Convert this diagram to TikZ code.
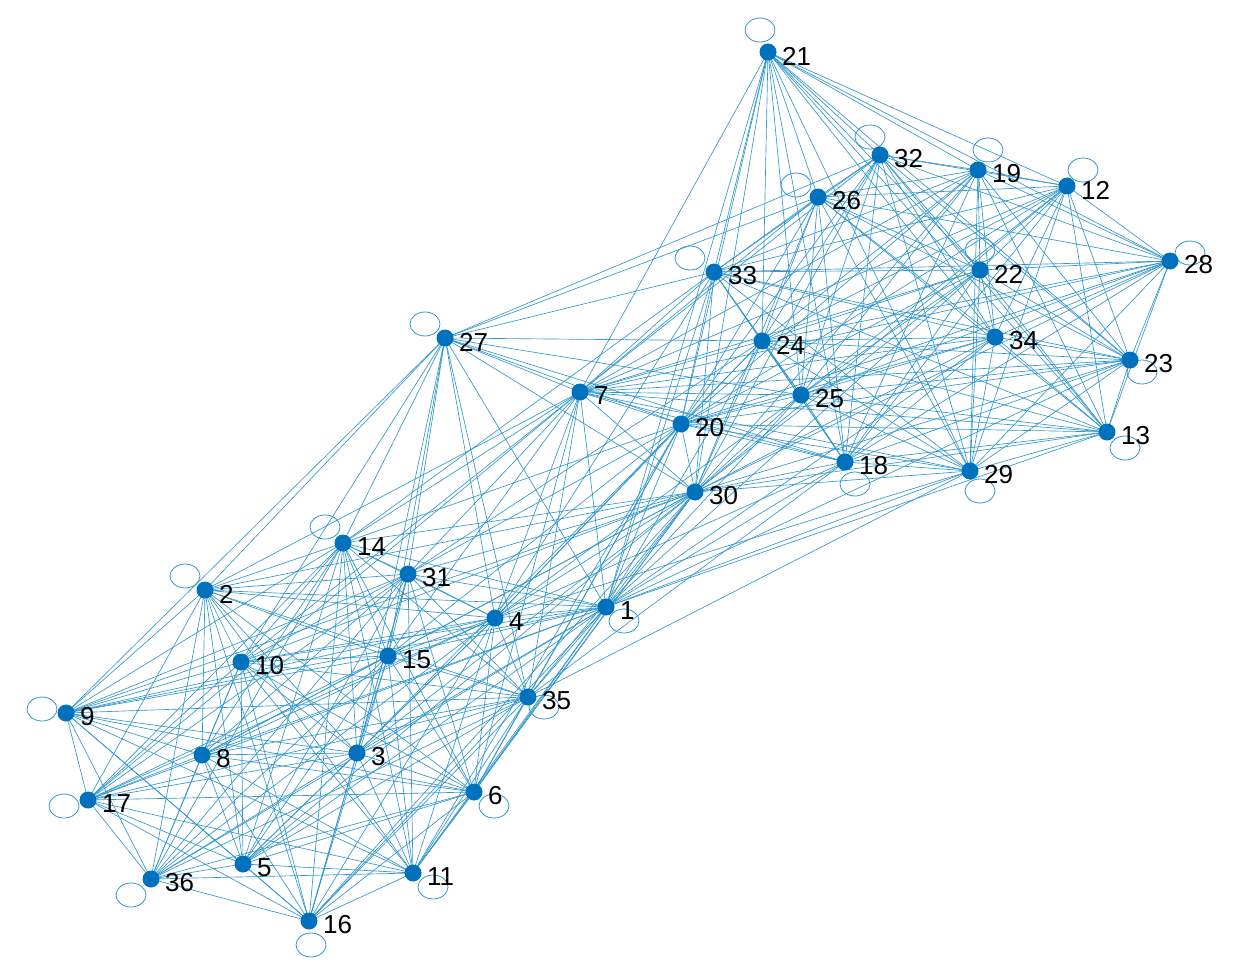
\documentclass[tikz,border=0pt]{standalone}
\usepackage{fontspec}
\setmainfont{Liberation Sans}
\usetikzlibrary{calc}
\definecolor{edge}{RGB}{50,150,205}
\definecolor{dot}{RGB}{0,114,189}
\begin{document}
\begin{tikzpicture}[x=1pt,y=-1pt,
  vtx/.style={circle,fill=dot,inner sep=0pt,minimum size=17pt},
  lbl/.style={anchor=west,font=\fontsize{26}{28}\selectfont,inner sep=0pt},
  ed/.style={draw=edge,line width=0.65pt},
  lp/.style={draw=edge,line width=0.8pt}]
\useasboundingbox (0,0) rectangle (1254,979);
\foreach \n/\x/\y in {21/768/52,32/880/155,19/978/170,12/1067/186,26/818/197,28/1170/261,22/980/270,33/714/272,34/995/337,24/762/341,23/1130/360,27/445/338,7/580/392,25/801/395,20/681/424,13/1107/432,18/845/462,29/970/471,30/695/492,14/343/543,31/408/574,2/205/590,1/606/607,4/495/618,10/241/662,15/388/656,9/66/713,35/528/697,8/202/755,3/357/753,6/474/792,17/88/800,5/243/864,11/413/873,36/151/879,16/309/921}
  {\coordinate (\n) at (\x,\y);}
% self loops
\foreach \n/\dx/\dy in {21/-8/-22,32/-10/-18,19/10/-20,12/16/-16,26/-22/-12,28/20/-8,33/-24/-14,27/-20/-14,13/18/16,18/10/22,23/12/12,14/-18/-16,2/-20/-14,1/18/14,9/-24/-4,17/-24/6,36/-20/16,16/2/24,11/20/14,6/20/14,35/16/10,29/10/20,22/0/-20}
  {\draw[lp] ($(\n)+(\dx,\dy)$) ellipse (15 and 12);}
% cluster A
\foreach \a [count=\i] in {2,9,17,36,5,16,11,6,35,3,8,10,15,4,31,14,1}
  \foreach \b [count=\j] in {2,9,17,36,5,16,11,6,35,3,8,10,15,4,31,14,1}
    {\ifnum\j>\i \draw[ed] (\a)--(\b);\fi}
% cluster B
\foreach \a [count=\i] in {21,32,19,12,26,28,22,33,34,24,23,25,20,13,18,29,30,7}
  \foreach \b [count=\j] in {21,32,19,12,26,28,22,33,34,24,23,25,20,13,18,29,30,7}
    {\ifnum\j>\i \draw[ed] (\a)--(\b);\fi}
% bridges
\foreach \a/\b in {27/2,27/14,27/31,27/4,27/15,27/10,27/1,27/7,27/20,27/33,27/26,27/24,27/25,27/30,27/3,27/35,27/9,27/18,27/32,
  1/30,1/20,1/7,1/25,1/18,1/29,1/24,1/33,1/21,1/23,1/13,1/34,1/22,
  4/30,4/20,4/7,4/25,4/18,4/24,4/33,4/29,35/30,35/20,35/7,35/29,35/18,
  14/7,14/20,14/30,14/33,31/7,31/20,31/30,31/24,15/7,15/30,15/20,2/7,2/30,10/7,10/30,
  6/30,6/20,6/7,3/30,3/20,11/30,11/20,8/30,5/30,16/30,9/30,17/7}
  {\draw[ed] (\a)--(\b);}
\foreach \n in {21,32,19,12,26,28,22,33,34,24,23,27,7,25,20,13,18,29,30,14,31,2,1,4,10,15,9,35,8,3,6,17,5,11,36,16}
  {\node[vtx] (v\n) at (\n) {}; \node[lbl] at ($(\n)+(14,4)$) {\n};}
\end{tikzpicture}
\end{document}
